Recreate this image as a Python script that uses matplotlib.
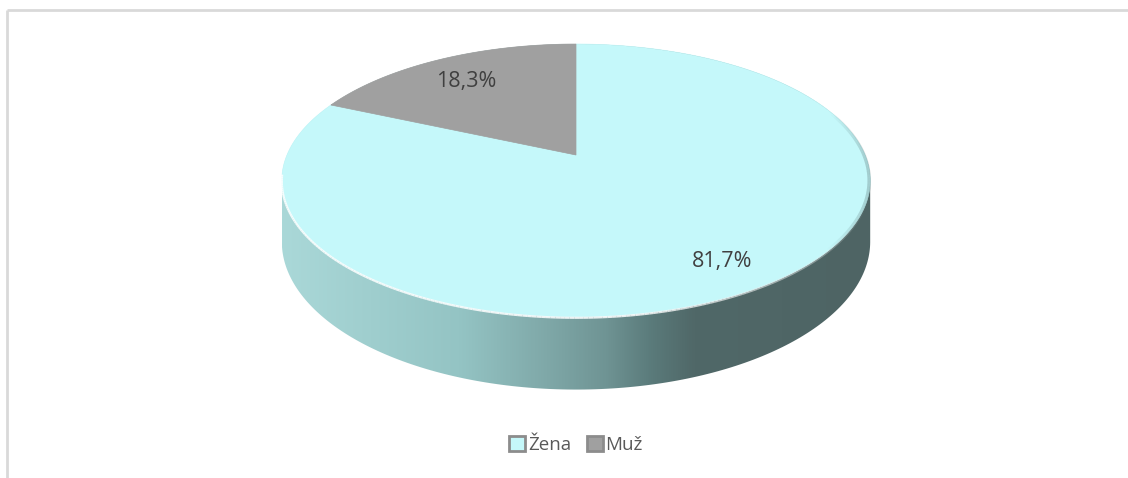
import numpy as np
import matplotlib.pyplot as plt
from matplotlib.patches import Polygon, Patch
from matplotlib.colors import LinearSegmentedColormap
from matplotlib.collections import LineCollection

# data
categories = ["Žena", "Muž"]
shares = [81.7, 18.3]
labels = ["81,7%", "18,3%"]
top_colors = ["#C5F8FA", "#A0A0A0"]

# pie geometry in pixel coords (perspective-ish projection of a disc)
CX, CY = 576, 155
A, B, K = 289, 131.7, 0.187
DEPTH = 59


def proj(theta, r=1.0, z=0.0):
    u = r * np.sin(theta)
    v = r * np.cos(theta)
    den = 1 + K * v
    return CX + A * u / den, CY - B * v / den + z * DEPTH / den


def hull(pts):
    pts = sorted(set(map(tuple, np.round(pts, 3))))
    def cross(o, a, b):
        return (a[0] - o[0]) * (b[1] - o[1]) - (a[1] - o[1]) * (b[0] - o[0])
    lower, upper = [], []
    for p in pts:
        while len(lower) >= 2 and cross(lower[-2], lower[-1], p) <= 0:
            lower.pop()
        lower.append(p)
    for p in reversed(pts):
        while len(upper) >= 2 and cross(upper[-2], upper[-1], p) <= 0:
            upper.pop()
        upper.append(p)
    return np.array(lower[:-1] + upper[:-1])


def fading_line(x, y, rgb, alphas, lw):
    pts = np.column_stack([x, y]).reshape(-1, 1, 2)
    segs = np.concatenate([pts[:-1], pts[1:]], axis=1)
    return LineCollection(segs, colors=[(*rgb, a) for a in alphas], lw=lw,
                          zorder=3)


fig = plt.figure(figsize=(11.28, 4.78), dpi=100)
ax = fig.add_axes([0, 0, 1, 1])
ax.set_xlim(0, 1128)
ax.set_ylim(478, 0)
ax.axis("off")

# chart frame (top and left edges visible)
ax.plot([7, 1128], [9.5, 9.5], color="#D9D9D9", lw=2, solid_capstyle="butt")
ax.plot([7, 7], [9.5, 478], color="#D9D9D9", lw=2, solid_capstyle="butt")

# side wall with horizontal shading
t = np.linspace(0, 2 * np.pi, 400)
tx, ty = proj(t)
bx, by = proj(t, z=1)
side = hull(np.column_stack([np.r_[tx, bx], np.r_[ty, by]]))
side_patch = Polygon(side, closed=True, facecolor="none", edgecolor="none")
ax.add_patch(side_patch)
cmap = LinearSegmentedColormap.from_list(
    "side",
    [(0.0, "#AAD8D8"), (0.3, "#94C4C4"), (0.45, "#7FA8A8"),
     (0.55, "#6F9494"), (0.63, "#5A7A7A"), (0.7, "#506868"), (1.0, "#4E6464")])
grad = np.linspace(0, 1, 256)[None, :]
im = ax.imshow(grad, cmap=cmap, aspect="auto",
               extent=(side[:, 0].min(), side[:, 0].max(),
                       side[:, 1].max(), side[:, 1].min()),
               zorder=1)
im.set_clip_path(side_patch)

# top face slices, start at 12 o'clock, clockwise
fracs = np.array(shares) / sum(shares)
starts = np.r_[0, np.cumsum(fracs)[:-1]] * 2 * np.pi
for start, frac, col, lab in zip(starts, fracs, top_colors, labels):
    th = np.linspace(start, start + frac * 2 * np.pi, 300)
    x, y = proj(th)
    poly = np.column_stack([np.r_[CX, x], np.r_[CY, y]])
    ax.add_patch(Polygon(poly, closed=True, facecolor=col, edgecolor=col,
                         lw=0.5, zorder=2))
    mid = start + frac * np.pi
    lx, ly = proj(mid, r=0.8)
    ax.text(lx + 2, ly + 5, lab, ha="center", va="center", fontsize=15.5,
            color="#404040", family="Open Sans", zorder=4)

# light rim along the front edge of the top face, fading out to the right
th = np.linspace(np.radians(110), np.radians(262), 200)
hx, hy = proj(th)
a = np.clip((th[:-1] - np.radians(110)) / np.radians(60), 0, 1) * 0.85
ax.add_collection(fading_line(hx, hy + 0.8, (1, 1, 1), a, 1.6))

# darker bevel along the right edge of the top face
th = np.linspace(np.radians(70), np.radians(130), 200)
rx, ry = proj(th)
w = np.sin(np.linspace(0, np.pi, len(th) - 1)) * 0.3
ax.add_collection(fading_line(rx - 1, ry, (0.3, 0.4, 0.4), w, 2.5))

handles = [Patch(facecolor=c, edgecolor="#8C8C8C", lw=2) for c in top_colors]
ax.legend(handles, categories, loc="center",
          bbox_to_anchor=(576 / 1128, 1 - 445 / 478), ncol=2, frameon=False,
          handlelength=0.85, handleheight=0.85, handletextpad=0.15,
          columnspacing=0.85, prop={"family": "Open Sans", "size": 13.5},
          labelcolor="#595959")

fig.savefig("out.png", dpi=100)
